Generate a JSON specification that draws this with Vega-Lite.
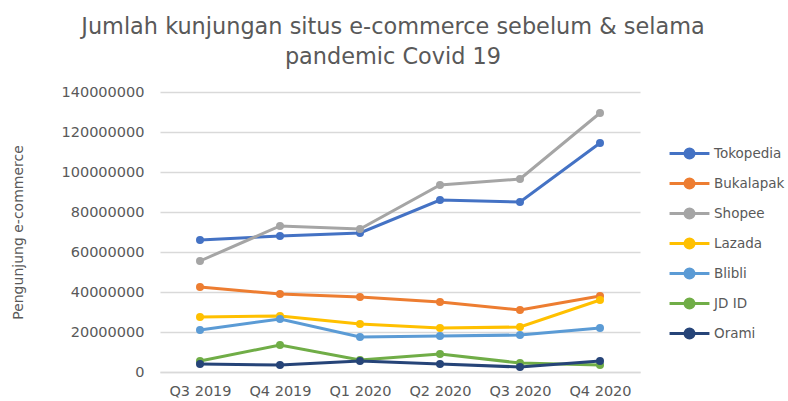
{
  "$schema": "https://vega.github.io/schema/vega-lite/v6.json",
  "autosize": "none",
  "width": 480,
  "height": 280,
  "padding": {"left": 160, "top": 92, "right": 148, "bottom": 29},
  "background": "white",
  "config": {"font": "DejaVu Sans", "view": {"stroke": null}},
  "title": {
    "text": ["Jumlah kunjungan situs e-commerce sebelum & selama", "pandemic Covid 19"],
    "fontSize": 22.4,
    "fontWeight": "normal",
    "color": "#595959",
    "anchor": "middle",
    "dx": -7,
    "offset": 16,
    "lineHeight": 30
  },
  "data": {
    "values": [
      {"q": "Q3 2019", "site": "Tokopedia", "v": 66000000},
      {"q": "Q4 2019", "site": "Tokopedia", "v": 68000000},
      {"q": "Q1 2020", "site": "Tokopedia", "v": 69500000},
      {"q": "Q2 2020", "site": "Tokopedia", "v": 86000000},
      {"q": "Q3 2020", "site": "Tokopedia", "v": 85000000},
      {"q": "Q4 2020", "site": "Tokopedia", "v": 114500000},
      {"q": "Q3 2019", "site": "Bukalapak", "v": 42500000},
      {"q": "Q4 2019", "site": "Bukalapak", "v": 39000000},
      {"q": "Q1 2020", "site": "Bukalapak", "v": 37500000},
      {"q": "Q2 2020", "site": "Bukalapak", "v": 35000000},
      {"q": "Q3 2020", "site": "Bukalapak", "v": 31000000},
      {"q": "Q4 2020", "site": "Bukalapak", "v": 38000000},
      {"q": "Q3 2019", "site": "Shopee", "v": 55500000},
      {"q": "Q4 2019", "site": "Shopee", "v": 73000000},
      {"q": "Q1 2020", "site": "Shopee", "v": 71500000},
      {"q": "Q2 2020", "site": "Shopee", "v": 93500000},
      {"q": "Q3 2020", "site": "Shopee", "v": 96500000},
      {"q": "Q4 2020", "site": "Shopee", "v": 129500000},
      {"q": "Q3 2019", "site": "Lazada", "v": 27500000},
      {"q": "Q4 2019", "site": "Lazada", "v": 28000000},
      {"q": "Q1 2020", "site": "Lazada", "v": 24000000},
      {"q": "Q2 2020", "site": "Lazada", "v": 22000000},
      {"q": "Q3 2020", "site": "Lazada", "v": 22500000},
      {"q": "Q4 2020", "site": "Lazada", "v": 36000000},
      {"q": "Q3 2019", "site": "Blibli", "v": 21000000},
      {"q": "Q4 2019", "site": "Blibli", "v": 26500000},
      {"q": "Q1 2020", "site": "Blibli", "v": 17500000},
      {"q": "Q2 2020", "site": "Blibli", "v": 18000000},
      {"q": "Q3 2020", "site": "Blibli", "v": 18500000},
      {"q": "Q4 2020", "site": "Blibli", "v": 22000000},
      {"q": "Q3 2019", "site": "JD ID", "v": 5500000},
      {"q": "Q4 2019", "site": "JD ID", "v": 13500000},
      {"q": "Q1 2020", "site": "JD ID", "v": 6000000},
      {"q": "Q2 2020", "site": "JD ID", "v": 9000000},
      {"q": "Q3 2020", "site": "JD ID", "v": 4500000},
      {"q": "Q4 2020", "site": "JD ID", "v": 3500000},
      {"q": "Q3 2019", "site": "Orami", "v": 4000000},
      {"q": "Q4 2019", "site": "Orami", "v": 3500000},
      {"q": "Q1 2020", "site": "Orami", "v": 5500000},
      {"q": "Q2 2020", "site": "Orami", "v": 4000000},
      {"q": "Q3 2020", "site": "Orami", "v": 2500000},
      {"q": "Q4 2020", "site": "Orami", "v": 5500000}
    ]
  },
  "mark": {"type": "line", "strokeWidth": 3, "point": {"filled": true, "size": 64}},
  "encoding": {
    "x": {
      "field": "q",
      "type": "ordinal",
      "sort": null,
      "scale": {"type": "point", "padding": 0.5},
      "axis": {
        "title": null,
        "labelAngle": 0,
        "labelFontSize": 14.5,
        "labelColor": "#595959",
        "labelPadding": 12,
        "ticks": false,
        "domainColor": "#d9d9d9",
        "domainWidth": 1.5
      }
    },
    "y": {
      "field": "v",
      "type": "quantitative",
      "scale": {"domain": [0, 140000000], "nice": false},
      "axis": {
        "title": "Pengunjung e-commerce",
        "titleFontSize": 14,
        "titleFontWeight": "normal",
        "titleColor": "#595959",
        "titleX": -142,
        "titleY": 140,
        "titleAngle": -90,
        "titleAlign": "center",
        "titleBaseline": "middle",
        "format": "d",
        "values": [0, 20000000, 40000000, 60000000, 80000000, 100000000, 120000000, 140000000],
        "labelFontSize": 14.5,
        "labelColor": "#595959",
        "labelPadding": 16,
        "ticks": false,
        "domain": false,
        "gridColor": "#d9d9d9",
        "gridWidth": 1.5
      }
    },
    "color": {
      "field": "site",
      "type": "nominal",
      "scale": {
        "domain": ["Tokopedia", "Bukalapak", "Shopee", "Lazada", "Blibli", "JD ID", "Orami"],
        "range": ["#4472C4", "#ED7D31", "#A5A5A5", "#FFC000", "#5B9BD5", "#70AD47", "#264478"]
      },
      "legend": {
        "title": null,
        "orient": "none",
        "legendX": 513,
        "legendY": 45,
        "labelFontSize": 13.5,
        "labelColor": "#595959",
        "labelOffset": 8,
        "symbolType": "M-1.33,0H-0.3A0.3,0.3 0 1,1 0.3,0H1.33M0.3,0A0.3,0.3 0 1,1 -0.3,0",
        "symbolSize": 900,
        "symbolStrokeWidth": 3,
        "rowPadding": 3
      }
    }
  }
}
